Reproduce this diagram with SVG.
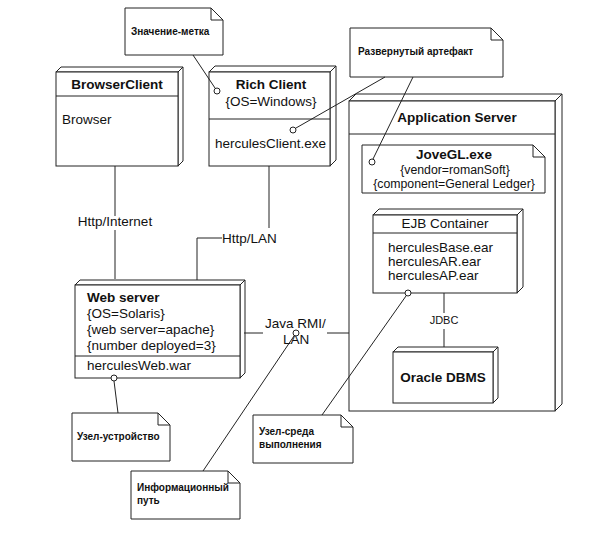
<svg xmlns="http://www.w3.org/2000/svg" width="597" height="535" viewBox="0 0 597 535">
<style>
.b{fill:#fff;stroke:#222;stroke-width:1}
.s{fill:#fff;stroke:#222;stroke-width:1;stroke-linejoin:round}
.l{fill:none;stroke:#222;stroke-width:1}
.c{fill:#fff;stroke:#222;stroke-width:1}
text{font-family:"Liberation Sans",Arial,sans-serif;fill:#111}
.t{font-size:13.5px}
.tb{font-size:13.5px;font-weight:bold}
.ts{font-size:12.3px}
.n{font-size:10px;font-weight:bold}
.m{text-anchor:middle}
</style>
<rect width="597" height="535" fill="#fff"/>

<g id="browserclient">
  <polygon class="s" points="56,72 61,67 183,67 178,72"/>
  <polygon class="s" points="178,72 183,67 183,161 178,166"/>
  <rect class="b" x="56" y="72" width="122" height="94"/>
  <line class="l" x1="56" y1="96" x2="178" y2="96"/>
  <text class="tb m" x="117" y="89">BrowserClient</text>
  <text class="t" x="62" y="124">Browser</text>
</g>

<g id="richclient">
  <polygon class="s" points="209,72 215,66 336,66 330,72"/>
  <polygon class="s" points="330,72 336,66 336,160 330,166"/>
  <rect class="b" x="209" y="72" width="121" height="94"/>
  <line class="l" x1="209" y1="119" x2="330" y2="119"/>
  <text class="tb m" x="271" y="89">Rich Client</text>
  <text class="t m" x="271" y="106">{OS=Windows}</text>
  <text class="t" x="215" y="148">herculesClient.exe</text>
</g>

<g id="webserver">
  <polygon class="s" points="75,285 80,280 245,280 240,285"/>
  <polygon class="s" points="240,285 245,280 245,373 240,378"/>
  <rect class="b" x="75" y="285" width="165" height="93"/>
  <line class="l" x1="75" y1="356" x2="240" y2="356"/>
  <text class="tb" x="87" y="302">Web server</text>
  <text class="t" x="87" y="318">{OS=Solaris}</text>
  <text class="t" x="87" y="334">{web server=apache}</text>
  <text class="t" x="87" y="350">{number deployed=3}</text>
  <text class="t" x="87" y="370">herculesWeb.war</text>
</g>

<g id="appserver">
  <polygon class="s" points="349,101 356,94 562,94 555,101"/>
  <polygon class="s" points="555,101 562,94 562,404 555,411"/>
  <rect class="b" x="349" y="101" width="206" height="310"/>
  <line class="l" x1="349" y1="134" x2="555" y2="134"/>
  <text class="tb m" x="457" y="122">Application Server</text>
</g>

<g id="jovegl">
  <path class="s" d="M362,145 H533 L545,157 V193 H362 Z"/>
  <path class="l" d="M533,145 V157 H545"/>
  <text class="tb m" x="454" y="159">JoveGL.exe</text>
  <text class="ts m" x="455" y="174">{vendor=romanSoft}</text>
  <text class="ts m" x="454" y="188">{component=General Ledger}</text>
</g>

<g id="ejbcontainer">
  <polygon class="s" points="373,215 379,209 523,209 517,215"/>
  <polygon class="s" points="517,215 523,209 523,287 517,293"/>
  <rect class="b" x="373" y="215" width="144" height="78"/>
  <line class="l" x1="373" y1="233" x2="517" y2="233"/>
  <text class="t m" x="445" y="228">EJB Container</text>
  <text class="t" x="388" y="252">herculesBase.ear</text>
  <text class="t" x="388" y="266">herculesAR.ear</text>
  <text class="t" x="388" y="280">herculesAP.ear</text>
</g>

<g id="oracle">
  <polygon class="s" points="393,352 398,347 498,347 493,352"/>
  <polygon class="s" points="493,352 498,347 498,398 493,403"/>
  <rect class="b" x="393" y="352" width="100" height="51"/>
  <text class="tb m" x="443" y="382">Oracle DBMS</text>
</g>

<g id="note-tag">
  <path class="s" d="M125,8 H211 L223,20 V55 H125 Z"/>
  <path class="l" d="M211,8 V20 H223"/>
  <text class="n" x="131" y="35">Значение-метка</text>
</g>

<g id="note-artifact">
  <path class="s" d="M350,28 H491 L503,40 V77 H350 Z"/>
  <path class="l" d="M491,28 V40 H503"/>
  <text class="n" x="358" y="55">Развернутый артефакт</text>
</g>

<g id="note-device">
  <path class="s" d="M72,413 H158 L170,425 V461 H72 Z"/>
  <path class="l" d="M158,413 V425 H170"/>
  <text class="n" x="77" y="440">Узел-устройство</text>
</g>

<g id="note-path">
  <path class="s" d="M131,471 H228 L240,483 V519 H131 Z"/>
  <path class="l" d="M228,471 V483 H240"/>
  <text class="n" x="137" y="491">Информационный</text>
  <text class="n" x="137" y="504">путь</text>
</g>

<g id="note-env">
  <path class="s" d="M253,415 H341 L353,427 V463 H253 Z"/>
  <path class="l" d="M341,415 V427 H353"/>
  <text class="n" x="259" y="435">Узел-среда</text>
  <text class="n" x="259" y="448">выполнения</text>
</g>

<g id="connectors">
  <line class="l" x1="115" y1="166" x2="115" y2="216"/>
  <line class="l" x1="115" y1="230" x2="115" y2="279"/>
  <text class="t m" x="115" y="226">Http/Internet</text>
  <polyline class="l" points="269,166 269,228"/>
  <polyline class="l" points="222,238 197,238 197,280"/>
  <text class="t" x="222" y="243">Http/LAN</text>
  <line class="l" x1="244" y1="333" x2="263" y2="333"/>
  <line class="l" x1="327" y1="333" x2="349" y2="333"/>
  <text class="t" x="265" y="328">Java RMI/</text>
  <text class="t" x="283" y="344">LAN</text>
  <line class="l" x1="444" y1="293" x2="444" y2="313"/>
  <line class="l" x1="444" y1="329" x2="444" y2="347"/>
  <text class="m" x="444" y="324" font-size="11">JDBC</text>
  <line class="l" x1="193" y1="55" x2="215" y2="88"/>
  <line class="l" x1="385" y1="77" x2="296" y2="128"/>
  <line class="l" x1="413" y1="77" x2="373" y2="159"/>
  <line class="l" x1="118" y1="413" x2="114" y2="381"/>
  <line class="l" x1="203" y1="471" x2="294" y2="336"/>
  <line class="l" x1="322" y1="415" x2="406" y2="296"/>
  <circle class="c" cx="217" cy="91" r="3"/>
  <circle class="c" cx="293" cy="130" r="3"/>
  <circle class="c" cx="372" cy="162" r="3"/>
  <circle class="c" cx="114" cy="378" r="3"/>
  <circle class="c" cx="296" cy="333" r="3"/>
  <circle class="c" cx="408" cy="293" r="3"/>
</g>
</svg>
